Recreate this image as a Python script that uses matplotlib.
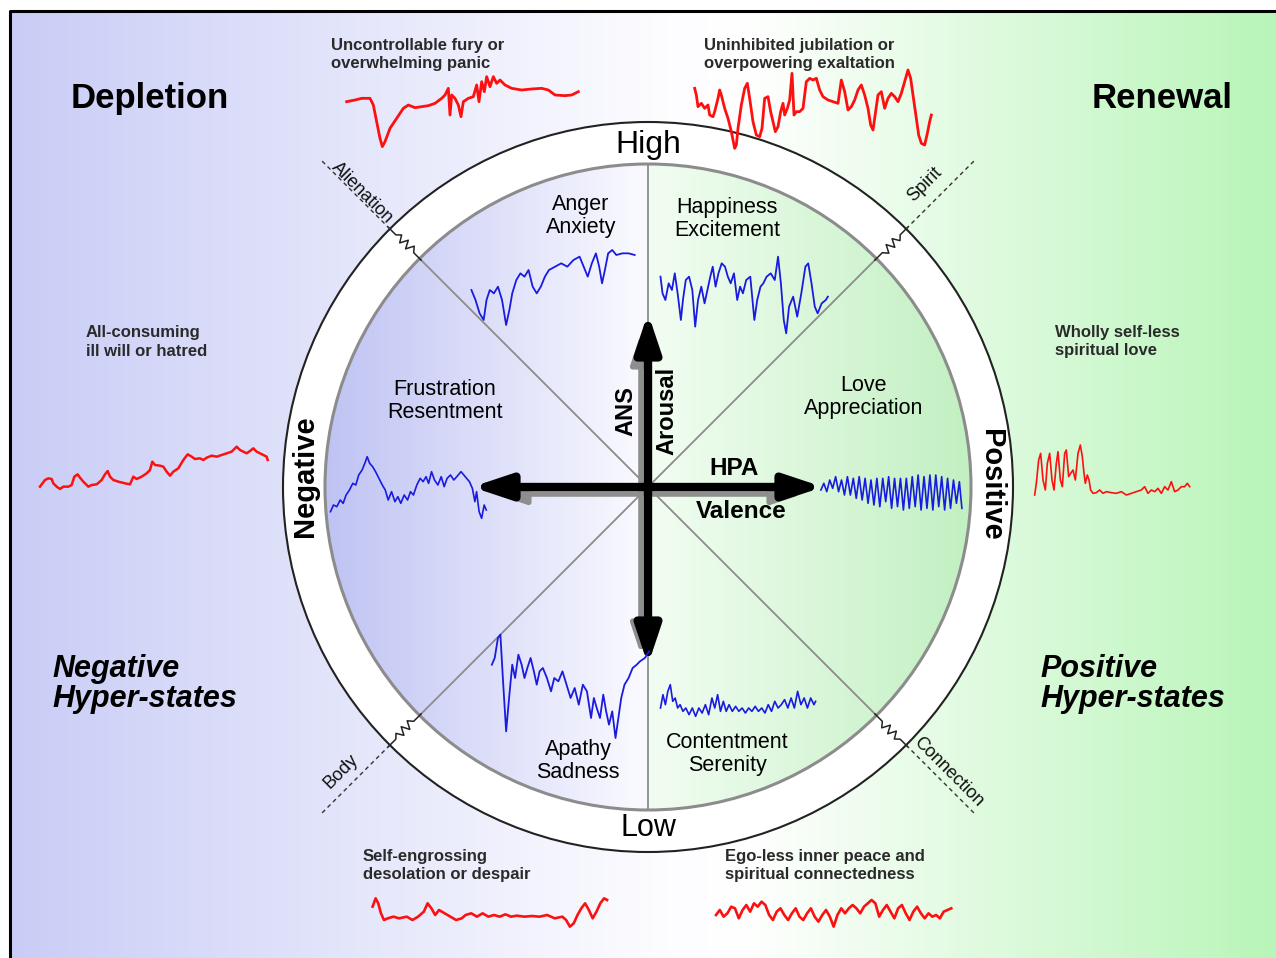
import numpy as np
import matplotlib.pyplot as plt
from matplotlib.colors import LinearSegmentedColormap
from matplotlib.patches import Circle
from matplotlib.transforms import Affine2D

plt.rcParams['font.family'] = ['Liberation Sans', 'DejaVu Sans']

W, H = 1276, 958
cx, cy = 648, 487          # centre of the wheel (px)
r_in, r_out = 323, 365     # inner disc / outer ring radius
r_dash = 462

# ---- traces, (x, y) read off zoomed crops of the picture ----
# outer red traces
fury = [(35, 110), (60, 105), (80, 100), (105, 100), (115, 120), (125, 170), (135, 220), (142, 245),
        (150, 230), (165, 190), (185, 160), (205, 130), (220, 120), (240, 128), (260, 125), (280, 122),
        (300, 115), (320, 100), (330, 90), (340, 70), (345, 150), (350, 90), (360, 100), (370, 120),
        (378, 155), (385, 110), (400, 100), (415, 95), (425, 60), (432, 110), (440, 50), (448, 80),
        (455, 35), (465, 65), (475, 35), (485, 55), (495, 45), (510, 60), (530, 70), (560, 75),
        (590, 72), (620, 70), (640, 75), (660, 90), (690, 92), (710, 90), (730, 80)]
jubilation = [(20, 130), (25, 150), (30, 185), (40, 175), (50, 190), (60, 180), (65, 210), (75, 215),
              (80, 200), (90, 160), (95, 135), (100, 150), (110, 190), (120, 220), (130, 260), (140, 310),
              (145, 300), (150, 250), (160, 180), (170, 130), (178, 115), (185, 160), (195, 230),
              (205, 270), (215, 275), (222, 250), (230, 160), (240, 155), (248, 200), (255, 230),
              (262, 260), (270, 245), (278, 200), (285, 175), (290, 210), (298, 190), (305, 165),
              (312, 85), (318, 210), (325, 200), (335, 200), (345, 190), (355, 110), (365, 100),
              (375, 105), (385, 100), (395, 135), (405, 155), (420, 165), (435, 170), (450, 175),
              (460, 105), (470, 140), (480, 195), (490, 185), (500, 165), (510, 135), (520, 120),
              (530, 150), (540, 190), (548, 240), (555, 255), (560, 220), (570, 150), (580, 140),
              (590, 190), (600, 160), (610, 145), (620, 155), (630, 170), (640, 145), (650, 110),
              (660, 75), (668, 100), (675, 150), (685, 220), (692, 270), (700, 295), (710, 300),
              (718, 265), (725, 230), (730, 210)]
hatred = [(15, 155), (30, 135), (40, 130), (50, 132), (55, 145), (65, 155), (75, 162), (85, 155),
          (100, 155), (110, 150), (118, 125), (128, 118), (135, 128), (145, 140), (160, 155), (170, 150),
          (185, 148), (200, 135), (210, 118), (218, 108), (225, 125), (235, 135), (250, 140), (270, 145),
          (285, 148), (295, 125), (305, 132), (320, 125), (335, 115), (345, 105), (352, 80), (360, 90),
          (375, 92), (385, 95), (395, 110), (405, 122), (415, 110), (430, 100), (445, 75), (458, 58),
          (470, 65), (480, 72), (495, 70), (505, 75), (515, 68), (530, 62), (545, 65), (560, 60),
          (575, 55), (590, 50), (605, 35), (615, 45), (625, 50), (635, 55), (645, 48), (655, 40),
          (665, 50), (675, 55), (685, 60), (695, 65), (698, 75)]
selfless_love = [(20, 165), (25, 130), (32, 60), (38, 40), (45, 120), (52, 150), (58, 70), (65, 40),
                 (72, 120), (78, 150), (85, 70), (90, 35), (97, 120), (103, 140), (110, 40), (115, 30),
                 (122, 110), (128, 100), (135, 90), (142, 120), (150, 40), (157, 15), (163, 50),
                 (168, 100), (172, 130), (178, 105), (183, 120), (188, 150), (195, 160), (205, 158),
                 (215, 150), (225, 160), (235, 155), (250, 158), (265, 160), (280, 155), (295, 165),
                 (310, 160), (325, 155), (340, 150), (350, 140), (360, 160), (370, 150), (380, 155),
                 (390, 145), (400, 160), (410, 140), (420, 150), (430, 125), (440, 155), (450, 150),
                 (460, 140), (470, 140), (478, 130), (485, 140)]
despair = [(20, 65), (28, 40), (35, 55), (42, 85), (50, 105), (60, 100), (75, 95), (90, 100), (110, 95),
           (125, 105), (140, 95), (155, 80), (165, 55), (175, 70), (185, 90), (195, 75), (210, 85),
           (225, 95), (240, 105), (255, 100), (265, 90), (280, 85), (295, 95), (310, 85), (325, 95),
           (340, 90), (355, 95), (370, 88), (385, 95), (400, 92), (420, 95), (440, 93), (460, 95),
           (480, 90), (500, 100), (520, 95), (530, 105), (540, 125), (550, 115), (560, 90), (570, 70),
           (580, 55), (590, 75), (600, 100), (610, 80), (620, 55), (630, 40), (638, 45)]
inner_peace = [(925, 90), (935, 75), (945, 95), (955, 85), (965, 65), (975, 70), (985, 100), (995, 75),
               (1005, 60), (1015, 80), (1025, 55), (1035, 65), (1045, 50), (1055, 60), (1065, 90),
               (1075, 105), (1085, 80), (1095, 70), (1105, 90), (1115, 105), (1125, 85), (1135, 70),
               (1145, 95), (1155, 105), (1165, 85), (1175, 70), (1185, 95), (1195, 110), (1205, 90),
               (1215, 75), (1225, 95), (1235, 125), (1245, 90), (1255, 70), (1265, 85), (1275, 70),
               (1285, 60), (1295, 70), (1305, 85), (1315, 65), (1325, 55), (1335, 45), (1345, 55),
               (1355, 95), (1365, 75), (1375, 60), (1385, 80), (1395, 100), (1405, 70), (1415, 60),
               (1425, 85), (1435, 105), (1445, 80), (1455, 65), (1465, 85), (1475, 100), (1485, 85),
               (1495, 95), (1505, 90), (1515, 100), (1525, 80), (1535, 75), (1545, 70)]

# inner blue traces
anger = [(1155, 870), (1165, 900), (1175, 940), (1185, 960), (1192, 900), (1200, 870), (1210, 880),
         (1220, 860), (1230, 900), (1240, 975), (1248, 930), (1255, 880), (1265, 840), (1275, 820),
         (1285, 830), (1295, 810), (1305, 860), (1315, 880), (1325, 860), (1335, 830), (1345, 810),
         (1360, 800), (1375, 790), (1390, 800), (1405, 780), (1420, 770), (1430, 800), (1440, 830),
         (1450, 790), (1460, 760), (1468, 800), (1475, 850), (1482, 810), (1490, 760), (1500, 750),
         (1510, 765), (1525, 760), (1540, 760), (1555, 765)]
happiness = [(60, 830), (65, 880), (72, 900), (80, 850), (88, 870), (95, 820), (102, 880), (110, 960),
             (115, 900), (122, 840), (130, 830), (138, 870), (145, 980), (152, 900), (160, 860),
             (168, 910), (175, 870), (182, 830), (188, 800), (195, 860), (202, 820), (210, 790),
             (218, 800), (225, 830), (232, 850), (240, 820), (248, 900), (255, 860), (262, 880),
             (270, 840), (280, 830), (290, 960), (297, 900), (305, 860), (312, 850), (320, 830),
             (330, 820), (340, 840), (348, 770), (355, 850), (362, 960), (368, 1000), (375, 920),
             (385, 890), (395, 950), (405, 880), (415, 800), (422, 790), (430, 850), (438, 920),
             (445, 940), (455, 910), (465, 900), (470, 890)]
frustration = [(25, 200), (32, 180), (40, 185), (48, 165), (55, 175), (62, 150), (70, 135), (78, 115),
               (85, 120), (92, 90), (100, 75), (108, 50), (112, 35), (118, 55), (125, 65), (132, 80),
               (140, 100), (148, 120), (155, 135), (162, 165), (170, 140), (178, 170), (185, 155),
               (192, 175), (200, 150), (208, 165), (215, 140), (222, 150), (230, 120), (238, 100),
               (245, 110), (252, 95), (258, 115), (265, 80), (272, 105), (280, 120), (288, 95),
               (295, 125), (302, 100), (310, 90), (318, 105), (325, 95), (335, 80), (345, 95),
               (355, 110), (362, 130), (368, 170), (372, 140), (378, 200), (384, 220), (390, 180),
               (395, 195)]
love = [(1190, 135), (1197, 115), (1204, 140), (1211, 105), (1218, 130), (1225, 95), (1232, 140),
        (1239, 105), (1246, 150), (1253, 95), (1260, 150), (1267, 100), (1274, 160), (1281, 95),
        (1288, 165), (1295, 100), (1302, 175), (1309, 105), (1316, 180), (1323, 100), (1330, 185),
        (1337, 100), (1344, 170), (1351, 95), (1358, 190), (1365, 100), (1372, 185), (1379, 100),
        (1386, 195), (1393, 100), (1400, 190), (1407, 95), (1414, 185), (1421, 90), (1428, 195),
        (1435, 95), (1442, 190), (1449, 90), (1456, 195), (1463, 90), (1470, 185), (1477, 95),
        (1484, 195), (1491, 100), (1498, 190), (1505, 105), (1512, 175), (1519, 110), (1525, 190)]
apathy = [(1205, 560), (1212, 540), (1220, 480), (1226, 470), (1232, 600), (1240, 760), (1248, 650),
          (1255, 560), (1262, 600), (1270, 530), (1278, 560), (1285, 600), (1292, 570), (1300, 540),
          (1308, 580), (1315, 620), (1322, 580), (1330, 570), (1340, 600), (1350, 640), (1358, 600),
          (1368, 610), (1378, 580), (1388, 620), (1398, 660), (1408, 630), (1418, 680), (1428, 620),
          (1438, 640), (1448, 720), (1455, 660), (1462, 690), (1470, 720), (1478, 650), (1485, 700),
          (1492, 740), (1500, 700), (1508, 780), (1515, 720), (1522, 660), (1530, 620), (1540, 600),
          (1550, 570), (1560, 560), (1568, 550), (1580, 540), (1590, 520)]
contentment = [(60, 690), (66, 650), (72, 680), (78, 640), (84, 620), (90, 670), (96, 660), (102, 690),
               (108, 680), (115, 700), (122, 690), (130, 710), (138, 690), (146, 715), (154, 690),
               (162, 705), (170, 680), (178, 710), (186, 660), (193, 690), (200, 650), (207, 700),
               (214, 670), (221, 700), (228, 680), (236, 700), (244, 685), (252, 700), (260, 690),
               (268, 705), (276, 690), (284, 700), (292, 685), (300, 700), (308, 690), (316, 705),
               (324, 680), (332, 700), (340, 670), (348, 690), (356, 680), (364, 665), (372, 690),
               (380, 660), (388, 690), (396, 640), (404, 680), (412, 660), (420, 690), (428, 660),
               (436, 680), (440, 670)]

# small zig-zag drawn across the ring on each diagonal
squig_t = [-0.05, 0.2, 0.3, 0.4, 0.5, 0.6, 0.7, 0.8, 1.05]
squig_off = [0, 0, 5, -3, 5, -3, 4, 0, 0]

diag_names = ['Alienation', 'Spirit', 'Body', 'Connection']
diag_angles = [-135, -45, 135, 45]

fig = plt.figure(figsize=(W / 100, H / 100), dpi=100)
ax = fig.add_axes([0, 0, 1, 1])
ax.set_xlim(0, W)
ax.set_ylim(H, 0)
ax.axis('off')

# background gradient
bg_cmap = LinearSegmentedColormap.from_list(
    'bg', [(0, '#c9cdf6'), (0.52, '#fdfdff'), (0.58, '#ffffff'), (1, '#b9f5b9')])
grad = np.linspace(0, 1, 512)[None, :]
ax.imshow(grad, cmap=bg_cmap, extent=[10, W, H, 11], aspect='auto', zorder=0)
ax.plot([10, 10, W], [H, 11, 11], color='black', lw=2.2, zorder=1, solid_capstyle='butt')

# ring and disc
ax.add_patch(Circle((cx, cy), r_out, fc='white', ec='#222222', lw=1.5, zorder=1))
disc = Circle((cx, cy), r_in, fc='none', ec='#8c8c8c', lw=2.2, zorder=3)
ax.add_patch(disc)
disc_cmap = LinearSegmentedColormap.from_list(
    'disc', [(0, '#bfc3f3'), (0.495, '#fafaff'), (0.505, '#f2fdf2'), (1, '#c2f0c2')])
im = ax.imshow(grad, cmap=disc_cmap, extent=[cx - r_in, cx + r_in, cy + r_in, cy - r_in],
               aspect='auto', zorder=2)
im.set_clip_path(disc)

# dividing lines inside disc
ax.plot([cx, cx], [cy - r_in, cy + r_in], color='#8c8c8c', lw=1.3, zorder=3)
for a in (45, 135):
    dx, dy = np.cos(np.radians(a)), np.sin(np.radians(a))
    ax.plot([cx - r_in * dx, cx + r_in * dx], [cy - r_in * dy, cy + r_in * dy],
            color='#8c8c8c', lw=1.3, zorder=3)

# zig-zags, dashed spokes and their labels
label_off = {'Alienation': (410, 6, -45), 'Spirit': (410, 18, 45),
             'Body': (418, 16, 45), 'Connection': (414, 11, -45)}
for name, ang in zip(diag_names, diag_angles):
    rot = Affine2D().rotate_deg(ang).translate(cx, cy) + ax.transData
    ts = r_in + (r_out - r_in) * np.array(squig_t)
    ax.plot(ts, squig_off, color='#222222', lw=1.1, transform=rot, zorder=4)
    ax.plot([r_out, r_dash], [0, 0], color='#333333', lw=1.0, ls=(0, (3, 2.5)),
            transform=rot, zorder=4)
    r_lab, perp, trot = label_off[name]
    ux, uy = np.cos(np.radians(ang)), np.sin(np.radians(ang))
    # unit normal pointing upwards on screen
    px, py = -uy, ux
    if py > 0:
        px, py = -px, -py
    ax.text(cx + r_lab * ux + perp * px, cy + r_lab * uy + perp * py, name,
            rotation=trot, ha='center', va='center', fontsize=13, color='#111111', zorder=7,
            rotation_mode='anchor')

# arrows (grey shadow first, black on top)
def arrow(p0, p1, color, lw, hl, hw):
    ax.annotate('', xy=p1, xytext=p0, zorder=5,
                arrowprops=dict(arrowstyle=f'<|-|>,head_length={hl},head_width={hw}',
                                color=color, lw=lw, shrinkA=0, shrinkB=0, mutation_scale=50))

arrow((cx - 7, 655), (cx - 7, 333), '#8e8e8e', 4, 0.36, 0.12)
arrow((495, cy + 7), (803, cy + 7), '#8e8e8e', 4, 0.36, 0.12)
arrow((cx, 665), (cx, 313), 'black', 6, 0.45, 0.15)
arrow((472, cy), (823, cy), 'black', 6, 0.45, 0.15)

# traces
def trace(points, box, zoom, color, lw):
    x0, y0, w, h = box
    zw, zh = zoom
    tr = Affine2D().scale(w / zw, h / zh).translate(x0, y0) + ax.transData
    xs, ys = zip(*points)
    ax.plot(xs, ys, color=color, lw=lw, transform=tr, zorder=6, solid_joinstyle='round')

red, blue = '#ff1010', '#1a1ae0'
trace(fury, (335, 65, 250, 90), (750, 270), red, 2.0)
trace(jubilation, (688, 45, 250, 115), (750, 345), red, 2.0)
trace(hatred, (35, 435, 240, 60), (720, 180), red, 1.8)
trace(selfless_love, (1028, 440, 170, 65), (510, 195), red, 1.2)
trace(despair, (365, 885, 595, 45), (1568, 135), red, 1.9)
trace(inner_peace, (365, 885, 595, 45), (1568, 135), red, 1.9)
trace(anger, (0, 0, 640, 480), (1568, 1440), blue, 1.3)
trace(happiness, (636, 0, 640, 480), (1568, 1440), blue, 1.3)
trace(frustration, (320, 445, 660, 80), (1568, 240), blue, 1.2)
trace(love, (320, 445, 660, 80), (1568, 240), blue, 1.2)
trace(apathy, (0, 478, 640, 480), (1568, 1440), blue, 1.3)
trace(contentment, (636, 478, 640, 480), (1568, 1440), blue, 1.2)

# ring labels
ax.text(cx, 145, 'High', ha='center', va='center', fontsize=23, zorder=7)
ax.text(cx, 828, 'Low', ha='center', va='center', fontsize=22, zorder=7)
ax.text(305, 476, 'Negative', rotation=90, ha='center', va='center', fontsize=21,
        fontweight='bold', zorder=7)
ax.text(991, 485, 'Positive', rotation=-90, ha='center', va='center', fontsize=21,
        fontweight='bold', zorder=7)

# sector labels
sectors = [('Anger\nAnxiety', 581, 216), ('Happiness\nExcitement', 727, 219),
           ('Frustration\nResentment', 445, 401), ('Love\nAppreciation', 864, 397),
           ('Apathy\nSadness', 578, 761), ('Contentment\nSerenity', 727, 754)]
for txt, x, y in sectors:
    ax.text(x, y, txt, ha='center', va='center', fontsize=15.5, linespacing=1.15, zorder=7)

# axis labels
ax.text(626, 411, 'ANS', rotation=90, ha='center', va='center', fontsize=17,
        fontweight='bold', zorder=7)
ax.text(667, 411, 'Arousal', rotation=90, ha='center', va='center', fontsize=17,
        fontweight='bold', zorder=7)
ax.text(734, 468, 'HPA', ha='center', va='center', fontsize=17.5, fontweight='bold', zorder=7)
ax.text(741, 512, 'Valence', ha='center', va='center', fontsize=17.5, fontweight='bold', zorder=7)

# corner titles
ax.text(150, 98, 'Depletion', ha='center', va='center', fontsize=25, fontweight='bold')
ax.text(1162, 98, 'Renewal', ha='center', va='center', fontsize=25, fontweight='bold')
ax.text(52, 684, 'Negative\nHyper-states', ha='left', va='center', fontsize=22,
        fontweight='bold', style='italic', linespacing=1.0)
ax.text(1040, 684, 'Positive\nHyper-states', ha='left', va='center', fontsize=22,
        fontweight='bold', style='italic', linespacing=1.0)

# small annotations
notes = [('Uncontrollable fury or\noverwhelming panic', 331, 54),
         ('Uninhibited jubilation or\noverpowering exaltation', 704, 54),
         ('All-consuming\nill will or hatred', 86, 342),
         ('Wholly self-less\nspiritual love', 1055, 342),
         ('Self-engrossing\ndesolation or despair', 363, 865),
         ('Ego-less inner peace and\nspiritual connectedness', 725, 865)]
for txt, x, y in notes:
    ax.text(x, y, txt, ha='left', va='center', fontsize=12, fontweight='bold',
            color='#2a2a2a', linespacing=1.25, zorder=7)

fig.savefig('out.png', dpi=100)
